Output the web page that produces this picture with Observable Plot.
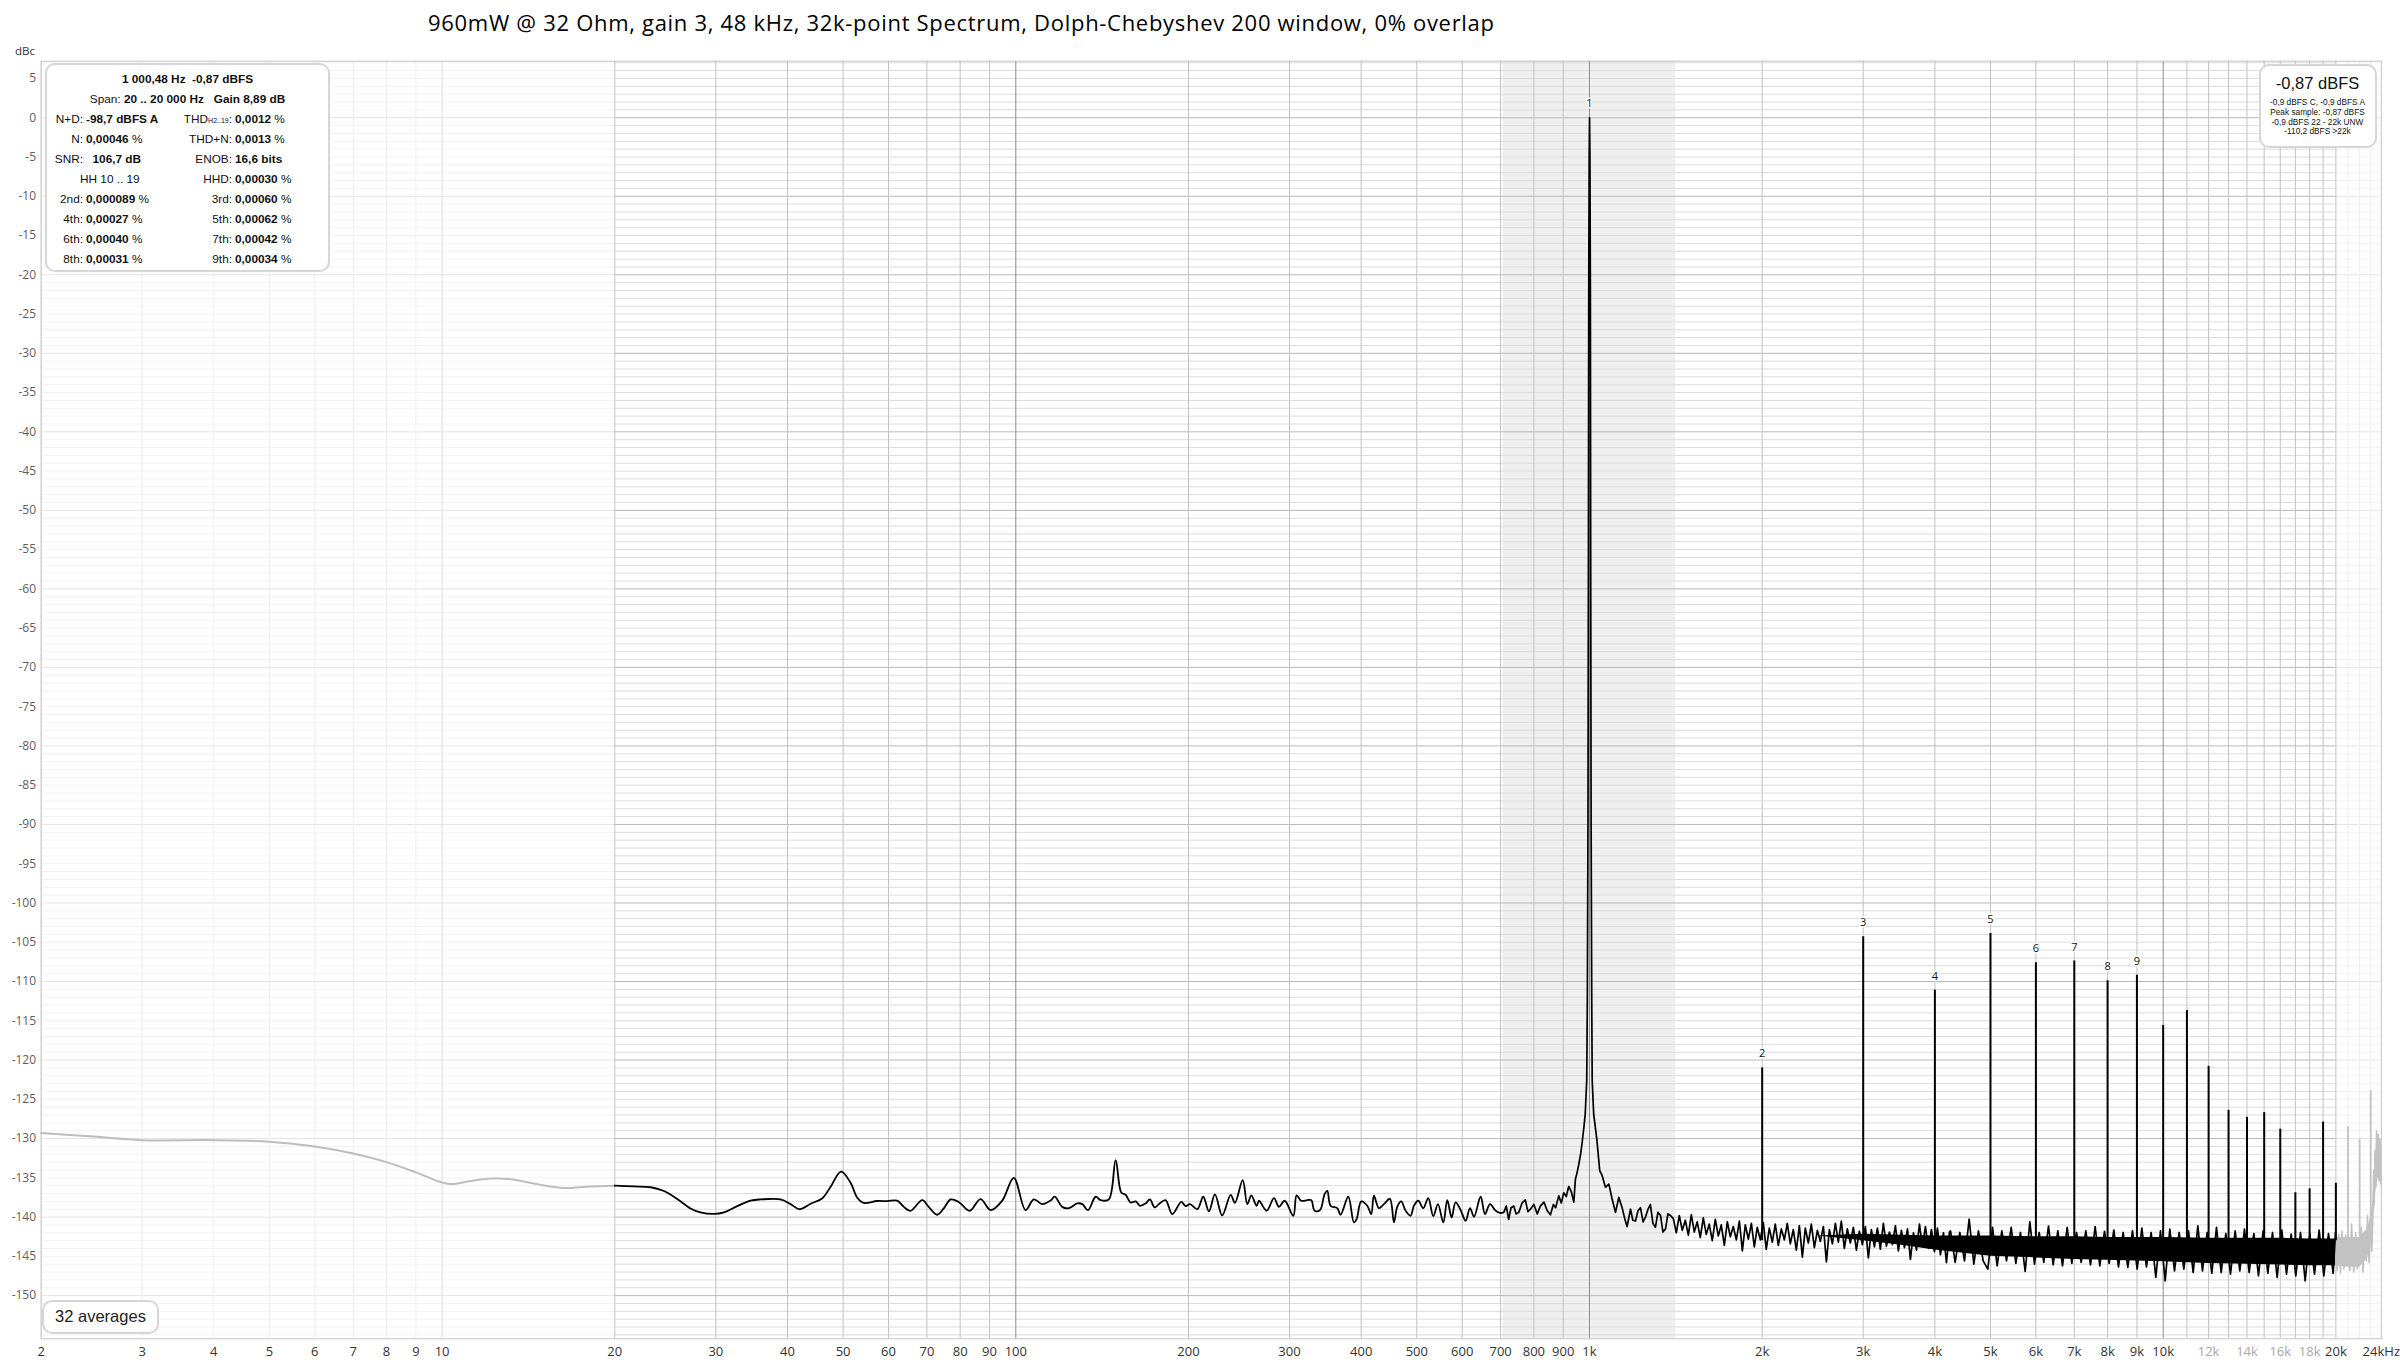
<!DOCTYPE html>
<html><head><meta charset="utf-8">
<script src="https://cdn.jsdelivr.net/npm/d3@7"></script>
<script src="https://cdn.jsdelivr.net/npm/@observablehq/plot@0.6"></script>
<style>
html,body{margin:0;padding:0;background:#fff;}
#wrap{position:relative;width:2400px;height:1362px;overflow:hidden;}
#chart{position:absolute;left:0;top:0;}
.abs{position:absolute;white-space:nowrap;}
#title{left:428px;top:7px;font:22px "Open Sans","Noto Sans",sans-serif;letter-spacing:0.7px;color:#000;line-height:30px;}
#ylab{left:15px;top:43px;font:11.5px "Open Sans","Noto Sans",sans-serif;color:#333;}
.box{position:absolute;background:#fff;border:2.5px solid #d6d6d6;border-radius:10px;box-sizing:border-box;}
#tl{left:45px;top:63px;width:285px;height:209px;font:11.8px "Liberation Sans",Arial,sans-serif;color:#111;}
#tl .r{position:absolute;line-height:20px;white-space:nowrap;}
#tl .c{left:0;width:281px;text-align:center;}
#tl .l1{left:0;width:36px;text-align:right;}
#tl .v1{left:39px;}
#tl .l2{left:60px;width:125px;text-align:right;}
#tl .v2{left:188px;}
#tl small{font-size:7px;}
#tr{left:2259px;top:64px;width:118px;height:84px;font-family:"Liberation Sans",Arial,sans-serif;color:#111;text-align:center;}
#tr .big{position:absolute;left:0;width:113px;top:7px;font-size:16.5px;line-height:20px;}
#tr .sm{position:absolute;left:0;width:113px;font-size:8.3px;line-height:10px;}
#avg{left:42px;top:1300px;width:117px;height:34px;font:16.5px "Liberation Sans",Arial,sans-serif;color:#222;text-align:center;line-height:29px;}
</style></head>
<body>
<div id="wrap">
<div id="chart"></div>
<div id="title" class="abs">960mW @ 32 Ohm, gain 3, 48 kHz, 32k-point Spectrum, Dolph-Chebyshev 200 window, 0% overlap</div>
<div id="ylab" class="abs">dBc</div>
<div id="tl" class="box">
  <div class="r c" style="top:4px"><b>1 000,48 Hz&nbsp;&nbsp;-0,87 dBFS</b></div>
  <div class="r c" style="top:24px">Span: <b>20 .. 20 000 Hz</b>&nbsp;&nbsp; <b>Gain 8,89 dB</b></div>
  <div class="r l1" style="top:44px">N+D:</div><div class="r v1" style="top:44px"><b>-98,7 dBFS A</b></div>
  <div class="r l2" style="top:44px">THD<small>H2..19</small>:</div><div class="r v2" style="top:44px"><b>0,0012</b> %</div>
  <div class="r l1" style="top:64px">N:</div><div class="r v1" style="top:64px"><b>0,00046</b> %</div>
  <div class="r l2" style="top:64px">THD+N:</div><div class="r v2" style="top:64px"><b>0,0013</b> %</div>
  <div class="r l1" style="top:84px">SNR:</div><div class="r v1" style="top:84px">&nbsp;&nbsp;<b>106,7 dB</b></div>
  <div class="r l2" style="top:84px">ENOB:</div><div class="r v2" style="top:84px"><b>16,6 bits</b></div>
  <div class="r" style="top:104px;left:33px">HH 10 .. 19</div>
  <div class="r l2" style="top:104px">HHD:</div><div class="r v2" style="top:104px"><b>0,00030</b> %</div>
  <div class="r l1" style="top:124px">2nd:</div><div class="r v1" style="top:124px"><b>0,000089</b> %</div>
  <div class="r l2" style="top:124px">3rd:</div><div class="r v2" style="top:124px"><b>0,00060</b> %</div>
  <div class="r l1" style="top:144px">4th:</div><div class="r v1" style="top:144px"><b>0,00027</b> %</div>
  <div class="r l2" style="top:144px">5th:</div><div class="r v2" style="top:144px"><b>0,00062</b> %</div>
  <div class="r l1" style="top:164px">6th:</div><div class="r v1" style="top:164px"><b>0,00040</b> %</div>
  <div class="r l2" style="top:164px">7th:</div><div class="r v2" style="top:164px"><b>0,00042</b> %</div>
  <div class="r l1" style="top:184px">8th:</div><div class="r v1" style="top:184px"><b>0,00031</b> %</div>
  <div class="r l2" style="top:184px">9th:</div><div class="r v2" style="top:184px"><b>0,00034</b> %</div>
</div>
<div id="tr" class="box">
  <div class="big">-0,87 dBFS</div>
  <div class="sm" style="top:31px">-0,9 dBFS C, -0,9 dBFS A</div>
  <div class="sm" style="top:41px">Peak sample: -0,87 dBFS</div>
  <div class="sm" style="top:51px">-0,9 dBFS 22 - 22k UNW</div>
  <div class="sm" style="top:60px">-110,2 dBFS &gt;22k</div>
</div>
<div id="avg" class="box">32 averages</div>
</div>
<script>
// ---------- data ----------
// out-of-span low-frequency part (grey)
const lowFreq = [2, 2.43, 3, 4, 5, 6, 7, 8, 9, 10, 10.4, 11.2, 12.2, 13.3, 14.6, 16.3, 18.1, 20];
const lowDb   = [-129.3, -129.7, -130.2, -130.2, -130.4, -131.0, -131.9, -133.0, -134.3, -135.6, -135.8, -135.4, -135.1, -135.2, -135.8, -136.3, -136.1, -136.0];

// in-span smooth part 20 Hz .. 700 Hz (black)
const smoothFreq = [20, 21.6, 23.1, 24.3, 25.7, 27.1, 28.2, 29.8, 31.0, 32.7, 34.5, 35.9, 38.9, 40.5, 42.0, 43.9, 46.0, 47.5, 49.6, 51.5, 52.9, 54.3, 57.3, 59.7, 62.1, 63.8, 65.5, 68.7, 70.5, 72.9, 74.9, 77.0, 79.6, 83.1, 86.8, 90.4, 94.7, 99.2, 104.0, 107.5, 111.2, 115.0, 116.9, 120.5, 123.8, 128.0, 130.6, 133.6, 137.8, 140.6, 145.3, 149.3, 152.7, 155.4, 158.5, 161.8, 164.6, 168.4, 171.3, 174.6, 177.6, 182.4, 187.4, 194.3, 197.7, 201.2, 207.2, 212.2, 217.1, 222.4, 229.0, 236.9, 241.0, 248.6, 253.3, 257.4, 262.9, 265.4, 273.7, 281.9, 287.5, 294.2, 304.6, 308.7, 314.5, 322.2, 327.4, 331.8, 339.0, 345.4, 349.1, 353.8, 363.4, 368.3, 379.8, 388.5, 392.7, 400.1, 409.9, 416.5, 421.0, 429.5, 438.2, 448.9, 456.2, 462.3, 469.8, 478.1, 487.7, 494.3, 503.0, 513.2, 523.6, 534.2, 544.3, 556.1, 565.1, 575.0, 584.3, 596.2, 608.3, 619.1, 629.1, 646.1, 657.4, 670.8, 686.2, 700];
const smoothDb   = [-136.0, -136.1, -136.2, -136.65, -137.7, -138.9, -139.4, -139.6, -139.4, -138.6, -137.9, -137.75, -137.75, -138.35, -139.0, -138.3, -137.6, -136.2, -134.2, -135.6, -137.5, -138.2, -137.95, -137.97, -137.9, -138.7, -139.2, -137.85, -138.7, -139.7, -138.9, -137.75, -138.1, -139.2, -137.7, -139.1, -137.9, -135.0, -139.1, -137.75, -138.35, -137.9, -137.4, -138.7, -138.86, -138.26, -138.35, -139.11, -137.41, -137.84, -137.75, -132.74, -136.86, -137.16, -138.13, -138.01, -138.56, -138.26, -137.75, -138.77, -138.35, -137.84, -139.62, -138.05, -138.6, -138.35, -138.98, -137.41, -139.28, -137.11, -139.79, -137.16, -138.18, -135.29, -138.35, -137.24, -138.56, -137.92, -139.19, -137.58, -138.69, -137.92, -139.83, -137.24, -137.92, -137.84, -137.84, -139.19, -139.11, -137.07, -136.65, -138.56, -138.86, -139.7, -137.41, -140.68, -140.26, -138.01, -138.56, -139.62, -137.28, -138.86, -138.35, -137.67, -140.68, -138.69, -138.01, -139.19, -139.83, -138.56, -137.92, -138.86, -137.58, -139.87, -138.35, -140.68, -137.84, -140.04, -138.13, -139.11, -140.47, -138.86, -139.96, -137.41, -139.62, -138.35, -139.19, -139.5];

// in-span noise incl. fundamental, 700 Hz .. 4.26 kHz (black)
const noiseFreq = [700, 709, 716, 723, 730, 738, 745, 753, 763, 773, 781, 789, 800, 811, 821, 833, 844, 855, 865, 873, 884, 893, 902, 911, 920, 930, 939, 945, 951, 958, 965, 971, 978, 983, 989, 991.5, 994, 995.8, 997, 998.8, 1000.3, 1001.8, 1003.6, 1004.8, 1006.6, 1009, 1011, 1017, 1030, 1042, 1052, 1066, 1081, 1095, 1110, 1125, 1140, 1152, 1163, 1179, 1190, 1203, 1215, 1227, 1240, 1252, 1265, 1277, 1290, 1303, 1316, 1330, 1343, 1357, 1370, 1384,
  1400, 1417, 1434, 1451, 1469, 1487, 1505, 1523, 1541, 1560, 1579, 1598, 1617, 1637, 1657, 1677, 1697, 1718, 1739, 1760, 1781, 1803, 1825, 1847, 1869, 1892, 1915, 1938, 1961, 1985, 2009, 2033, 2058, 2083, 2108, 2134, 2160, 2186, 2212, 2239, 2266, 2294, 2322, 2350, 2378, 2407, 2436, 2466, 2496, 2526, 2557, 2588, 2619, 2651, 2683, 2715, 2748, 2781, 2815, 2849, 2884, 2919, 2954, 2990, 3026, 3063, 3100, 3138, 3176, 3214, 3253, 3293, 3333, 3373, 3414, 3455, 3497, 3540, 3583, 3626, 3670, 3715, 3760, 3805, 3851, 3898, 3945, 3993, 4041, 4090, 4140, 4190, 4241];
const noiseDb   = [-139.5, -139.4, -138.6, -140.3, -138.8, -138.6, -139.6, -139.4, -138.2, -137.8, -139.3, -139.0, -138.4, -139.6, -138.6, -138.1, -139.2, -139.7, -138.4, -138.8, -137.3, -138.2, -136.9, -137.4, -136.1, -136.8, -138.1, -135.2, -134.4, -133.3, -132.0, -130.5, -128.5, -126.9, -122.6, -112, -90, -55, -22, -5, 0, -5, -22, -55, -90, -112, -122.6, -126.9, -130.1, -134.1, -134.7, -136.2, -135.8, -137.7, -139.4, -137.5, -138.8, -140.2, -141.2, -139.0, -140.4, -140.5, -139.2, -138.8, -140.6, -140.0, -139.0, -138.4, -140.8, -141.3, -139.4, -139.8, -141.9, -141.5, -139.6, -139.8,
  -140.2, -142.0, -139.8, -141.7, -140.4, -142.3, -139.7, -141.9, -140.6, -142.6, -140.1, -142.2, -140.9, -143.0, -140.3, -142.4, -141.0, -143.6, -140.6, -142.5, -141.2, -142.9, -140.5, -144.3, -141.0, -142.8, -140.8, -143.8, -141.3, -142.9, -140.7, -144.1, -141.4, -143.2, -140.9, -143.6, -141.5, -142.9, -140.8, -143.4, -141.6, -144.2, -141.1, -145.1, -141.4, -143.3, -140.9, -143.9, -141.7, -143.1, -141.2, -145.7, -141.6, -143.4, -140.8, -143.2, -140.5, -144.0, -141.5, -143.3, -141.3, -144.2, -141.8, -143.5, -141.2, -145.2, -141.6, -143.8, -141.4, -144.1, -140.8, -143.7, -141.9, -143.5, -141.1, -144.3, -141.7, -143.9, -141.5, -145.4, -142.0, -144.2, -140.9, -143.8, -141.2, -144.0, -141.6, -144.4, -141.4, -144.8, -142.0, -145.8, -141.9];

// dense noise 4.26 kHz .. 20 kHz (black)
const denseFreq = [4259, 4339, 4421, 4505, 4590, 4677, 4765, 4855, 4947, 5041, 5136, 5233, 5332, 5433, 5536, 5640, 5747, 5856, 5966, 6079, 6194, 6311, 6431, 6552, 6676, 6802, 6931, 7062, 7195, 7331, 7470, 7611, 7755, 7902, 8051, 8203, 8358, 8516, 8677, 8841, 9009, 9179, 9352, 9529, 9709, 9893, 10080, 10270, 10465, 10663, 10864, 11070, 11279, 11492, 11709, 11931, 12156, 12386, 12620, 12859, 13102, 13350, 13602, 13859, 14121, 14388, 14660, 14937, 15220, 15508, 15801, 16100, 16404, 16714, 17030, 17352, 17680, 18015, 18355, 18702, 19056, 19416, 19783, 19969];
const denseDb   = [-141.75, -145.78, -141.96, -145.57, -140.26, -145.99, -141.75, -145.57, -146.63, -141.32, -146.21, -141.75, -145.57, -141.32, -145.91, -141.96, -146.93, -140.6, -145.99, -141.96, -145.78, -141.15, -146.08, -141.75, -146.21, -141.32, -145.91, -141.96, -145.78, -141.75, -146.08, -141.2, -146.21, -141.83, -145.91, -141.66, -146.33, -141.96, -146.42, -141.75, -146.63, -141.41, -146.33, -141.96, -147.69, -141.75, -148.12, -141.54, -146.84, -141.96, -146.63, -141.75, -147.06, -141.11, -146.84, -141.96, -147.18, -141.32, -147.06, -142.09, -147.27, -141.75, -146.84, -141.54, -147.06, -142.09, -147.48, -141.75, -147.18, -141.96, -147.69, -141.66, -147.27, -142.17, -147.48, -141.96, -148.12, -142.17, -147.27, -141.66, -147.48, -142.09, -147.18, -141.96];

// solid core of the noise band
const bandFreq = [2500, 3000, 3500, 4000, 5000, 6000, 7000, 8000, 10000, 12000, 14000, 16000, 18000, 20000];
const bandHi   = [-142.4, -142.2, -142.3, -142.4, -142.4, -142.5, -142.5, -142.6, -142.6, -142.7, -142.7, -142.7, -142.8, -142.8];
const bandLo   = [-142.4, -143.0, -143.6, -144.2, -145.0, -145.2, -145.4, -145.5, -145.7, -145.9, -146.0, -146.1, -146.2, -146.2];

// out-of-span noise 20 kHz .. 24 kHz (grey)
const grayFreq = [19969, 20100, 20230, 20373, 20500, 20650, 20800, 21150, 21300, 21493, 21650, 21800, 22150, 22300, 22450, 22600, 22700, 22850, 23000, 23100, 23200, 23280, 23330, 23400, 23470, 23546, 23620, 23700, 23780, 23863, 23959];
const grayDb   = [-141.96, -146.8, -142.2, -147.1, -141.8, -146.6, -142.3, -146.8, -140.9, -147.0, -142.0, -146.6, -141.3, -147.0, -142.0, -145.6, -139.8, -145.8, -141.0, -144.3, -140.0, -134.0, -138.5, -131.5, -136.2, -129.0, -134.5, -129.5, -135.4, -130.0, -135.8];
const grayBandFreq = [19969, 21000, 22000, 22700, 23100, 23400, 23700, 23959];
const grayBandHi   = [-142.6, -142.6, -142.6, -141.5, -139.5, -134.0, -130.5, -131.0];
const grayBandLo   = [-146.2, -146.4, -146.4, -145.3, -143.0, -137.5, -135.0, -135.5];

// harmonics
const harmFreq = [2000, 3000, 4000, 5000, 6000, 7000, 8000, 9000, 10000, 11000, 12000, 13000, 14000, 15000, 16000, 17000, 18000, 19000, 20000];
const harmDb   = [-121.0, -104.3, -111.1, -103.9, -107.6, -107.4, -109.9, -109.2, -115.6, -113.7, -120.8, -126.4, -127.3, -126.7, -128.8, -136.9, -136.4, -127.9, -135.7];
const grayHarmFreq = [21000, 22000, 23000];
const grayHarmDb   = [-128.5, -130.1, -123.9];
const markerFreq = [1000, 2000, 3000, 4000, 5000, 6000, 7000, 8000, 9000];
const markerDb   = [0, -121.0, -104.3, -111.1, -103.9, -107.6, -107.4, -109.9, -109.2];
const markerText = ["1", "2", "3", "4", "5", "6", "7", "8", "9"];

// span shading (fundamental region)
const shadeFreq = [707, 1414];

// axes
const yTickVals = [5, 0, -5, -10, -15, -20, -25, -30, -35, -40, -45, -50, -55, -60, -65, -70, -75, -80, -85, -90, -95, -100, -105, -110, -115, -120, -125, -130, -135, -140, -145, -150];
const xTickVals = [2, 3, 4, 5, 6, 7, 8, 9, 10, 20, 30, 40, 50, 60, 70, 80, 90, 100, 200, 300, 400, 500, 600, 700, 800, 900, 1000, 2000, 3000, 4000, 5000, 6000, 7000, 8000, 9000, 10000, 12000, 14000, 16000, 18000, 20000, 24000];
const xTickText = ["2", "3", "4", "5", "6", "7", "8", "9", "10", "20", "30", "40", "50", "60", "70", "80", "90", "100", "200", "300", "400", "500", "600", "700", "800", "900", "1k", "2k", "3k", "4k", "5k", "6k", "7k", "8k", "9k", "10k", "12k", "14k", "16k", "18k", "20k", "24kHz"];
const xTickLight = [12000, 14000, 16000, 18000];

// ---------- build ----------
const zip = (fs, ds) => fs.map((f, i) => ({f, db: ds[i]}));
const low = zip(lowFreq, lowDb);
const smooth = zip(smoothFreq, smoothDb);
const noise = zip(noiseFreq, noiseDb).concat(zip(denseFreq, denseDb));
const gray = zip(grayFreq, grayDb);
const band = bandFreq.map((f, i) => ({f, hi: bandHi[i], lo: bandLo[i]}));
const grayBand = grayBandFreq.map((f, i) => ({f, hi: grayBandHi[i], lo: grayBandLo[i]}));
const harm = zip(harmFreq, harmDb);
const grayHarm = zip(grayHarmFreq, grayHarmDb);
const markers = markerFreq.map((f, i) => ({f, db: markerDb[i], t: markerText[i]}));
const xTicks = xTickVals.map((v, i) => ({v, t: xTickText[i], light: xTickLight.includes(v)}));

const Y0 = -155.5, Y1 = 7.2, X0 = 2, X1 = 24000, S0 = 20, S1 = 20000;
const vGrid = [];
for (const d of [1, 10, 100, 1000]) for (let m = 1; m <= 9; m++) { const f = d * m; if (f >= 2) vGrid.push(f); }
for (let k = 10; k <= 23; k++) vGrid.push(k * 1000);
const inSpan = f => f >= S0 && f <= S1;
const decades = [100, 1000, 10000];
const hMinor = d3.range(-155, 8, 1).filter(v => v % 10 !== 0);
const hMajor = d3.range(-150, 1, 10);

const font = '"Open Sans","Noto Sans",sans-serif';
const chart = Plot.plot({
  width: 2400, height: 1362,
  marginLeft: 40.6, marginRight: 19.2, marginTop: 60.7, marginBottom: 23.7,
  x: {type: "log", domain: [X0, X1], axis: null},
  y: {domain: [Y0, Y1], axis: null},
  style: {fontFamily: font, background: "#fff", overflow: "visible"},
  marks: [
    Plot.rect([0], {x1: () => shadeFreq[0], x2: () => shadeFreq[1], y1: () => Y0, y2: () => Y1, fill: "#efefef"}),
    // horizontal grid
    Plot.ruleY(hMinor, {x1: X0, x2: S0, stroke: "#f3f3f3"}),
    Plot.ruleY(hMinor, {x1: S1, x2: X1, stroke: "#f3f3f3"}),
    Plot.ruleY(hMajor, {x1: X0, x2: S0, stroke: "#e4e4e4"}),
    Plot.ruleY(hMajor, {x1: S1, x2: X1, stroke: "#e4e4e4"}),
    Plot.ruleY(hMinor, {x1: S0, x2: S1, stroke: "#dcdcdc"}),
    Plot.ruleY(hMajor, {x1: S0, x2: S1, stroke: "#b8b8b8"}),
    // vertical grid
    Plot.ruleX(vGrid.filter(f => !inSpan(f) && f !== 10), {stroke: "#eeeeee"}),
    Plot.ruleX([10], {stroke: "#dddddd"}),
    Plot.ruleX(vGrid.filter(f => inSpan(f) && !decades.includes(f)), {stroke: "#c2c2c2"}),
    Plot.ruleX(decades, {stroke: "#8c8c8c"}),
    Plot.frame({stroke: "#c4c4c4"}),
    // data
    Plot.line(low, {x: "f", y: "db", stroke: "#bdbdbd", strokeWidth: 2, curve: "catmull-rom"}),
    Plot.areaY(band, {x: "f", y1: "lo", y2: "hi", fill: "#000"}),
    Plot.areaY(grayBand, {x: "f", y1: "lo", y2: "hi", fill: "#c2c2c2"}),
    Plot.ruleX(grayHarm, {x: "f", y1: () => -143, y2: "db", stroke: "#c2c2c2", strokeWidth: 1.8}),
    Plot.line(gray, {x: "f", y: "db", stroke: "#c2c2c2", strokeWidth: 1.6, strokeLinejoin: "round"}),
    Plot.line(smooth, {x: "f", y: "db", stroke: "#000", strokeWidth: 1.8, curve: "catmull-rom"}),
    Plot.line(noise, {x: "f", y: "db", stroke: "#000", strokeWidth: 1.7, strokeLinejoin: "round"}),
    Plot.ruleX(harm, {x: "f", y1: () => -143, y2: "db", stroke: "#000", strokeWidth: 2}),
    Plot.text(markers, {x: "f", y: "db", text: "t", dy: -14, fontSize: 11, fill: "#111", stroke: "#fff", strokeWidth: 3, paintOrder: "stroke"}),
    // axes labels
    Plot.text(yTickVals, {x: () => X0, y: d => d, text: d => String(d), dx: -5, textAnchor: "end", fontSize: 12, fill: "#606060"}),
    Plot.text(xTicks.filter(d => !d.light), {x: "v", y: () => Y0, text: "t", dy: 13, fontSize: 13, fill: "#333"}),
    Plot.text(xTicks.filter(d => d.light), {x: "v", y: () => Y0, text: "t", dy: 13, fontSize: 13, fill: "#a8a8a8"})
  ]
});
document.getElementById("chart").appendChild(chart);
</script>
</body></html>
